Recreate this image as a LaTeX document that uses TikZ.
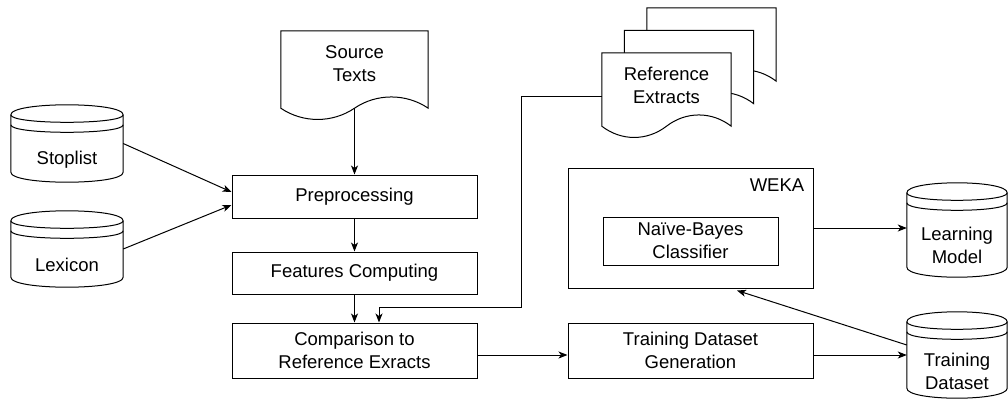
\documentclass[tikz,border=0pt]{standalone}
\usepackage{fontspec}
\setmainfont{Liberation Sans}
\usetikzlibrary{arrows.meta,calc}
\begin{document}
\begin{tikzpicture}[x=1pt,y=-1pt,
  every node/.style={font=\fontsize{18.5}{23}\selectfont, inner sep=0pt},
  proc/.style={draw, line width=1pt, minimum width=245pt, align=center},
  outline/.style={draw, line width=1pt, fill=white},
  arr/.style={line width=1pt, -{Stealth[length=9pt,width=7pt,inset=2.5pt]}},
  txt/.style={align=center}]
\useasboundingbox (0,0) rectangle (1008,399);

% shape holders
\node[minimum width=112pt, minimum height=77pt] (stop) at (67,143.5) {};
\node[minimum width=112pt, minimum height=76pt] (lex) at (67,249) {};
\node[minimum width=100pt, minimum height=94pt] (learn) at (957,230) {};
\node[minimum width=100pt, minimum height=86pt] (train) at (957,355) {};
\node[minimum width=147pt, minimum height=77pt] (src) at (354.5,69.5) {};
\node[minimum width=129pt, minimum height=73pt] (ref3) at (711.5,44.5) {};
\node[minimum width=129pt, minimum height=73pt] (ref2) at (689,67) {};
\node[minimum width=129pt, minimum height=73pt] (ref) at (666.5,89.5) {};

% data stores
\foreach \s in {stop,lex,learn,train}{
  \draw[outline] let \p1=(\s.north west), \p2=(\s.south east) in
    ({\x1},{\y1-10pt}) .. controls ({\x1},{\y1+3.33pt}) and ({\x2},{\y1+3.33pt}) .. ({\x2},{\y1-10pt})
      -- ({\x2},{\y2+10pt}) .. controls ({\x2},{\y2-3.33pt}) and ({\x1},{\y2-3.33pt}) .. ({\x1},{\y2+10pt}) -- cycle;
  \draw[line width=1pt] let \p1=(\s.north west), \p2=(\s.south east) in
    ({\x1},{\y1-10pt}) .. controls ({\x1},{\y1-20pt}) and ({\x2},{\y1-20pt}) .. ({\x2},{\y1-10pt})
    ({\x1},{\y1-20pt}) .. controls ({\x1},{\y1-30pt}) and ({\x2},{\y1-30pt}) .. ({\x2},{\y1-20pt});
}
% documents
\foreach \s in {src,ref3,ref2,ref}{
  \draw[outline] let \p1=(\s.north west), \p2=(\s.south east) in
    ({\x1},{\y1}) -- ({\x2},{\y1}) -- ({\x2},{\y2})
      .. controls ({\x1+0.85*(\x2-\x1)},{\y2+15pt}) and ({\x1+0.65*(\x2-\x1)},{\y2+15pt}) .. ({0.5*(\x1+\x2)},{\y2})
      .. controls ({\x1+0.35*(\x2-\x1)},{\y2-15pt}) and ({\x1+0.15*(\x2-\x1)},{\y2-15pt}) .. ({\x1},{\y2}) -- cycle;
}

% labels of shapes
\node[txt] (stopT) at ($(stop)+(0,16)$) {Stoplist};
\node[txt] (lexT) at ($(lex)+(0,16)$) {Lexicon};
\node[txt] (learnT) at ($(learn)+(0,15)$) {Learning\\Model};
\node[txt] (trainT) at ($(train)+(0,16)$) {Training\\Dataset};
\node[txt] (srcT) at ($(src)+(0,-6)$) {Source\\Texts};
\node[txt] (refT) at ($(ref)+(0,-4.5)$) {Reference\\Extracts};

% process boxes
\node[proc, minimum height=43pt] (prep) at (354.5,196.5) {Preprocessing};
\node[proc, minimum height=42pt] (feat) at (354.5,273) {Features Computing};
\node[proc, minimum height=55pt] (comp) at (354.5,350.5) {Comparison to\\Reference Exracts};
\node[proc, minimum height=55pt] (gen) at (690.5,350.5) {Training Dataset\\Generation};
\node[proc, minimum height=120pt] (weka) at (690.5,228) {};
\node[proc, minimum width=175pt, minimum height=48pt] (nb) at (690.5,241) {Naïve-Bayes\\Classifier};
\node (wekaT) at (777,185) {WEKA};

% connectors
\draw[arr] (stop.east) -- ($(prep.west)+(0,-4.5)$);
\draw[arr] (lex.east) -- ($(prep.west)+(0,8.5)$);
\draw[arr] (src.south) -- (prep.north);
\draw[arr] (prep.south) -- (feat.north);
\draw[arr] (feat.south) -- (comp.north);
\coordinate (rb) at (521,307);
\draw[arr] ($(ref.west)+(0,6.5)$) -| (rb) -| ($(comp.north)+(24.5,0)$);
\draw[arr] ($(comp.east)+(0,4.5)$) -- ($(gen.west)+(0,4.5)$);
\draw[arr] ($(gen.east)+(0,4.5)$) -- (train.west);
\draw[arr] (weka.east) -- (weka.east -| learn.west);
\draw[arr] ($(train.west)+(0,-10)$) -- ($(weka.south)+(46.5,2)$);
\end{tikzpicture}
\end{document}
